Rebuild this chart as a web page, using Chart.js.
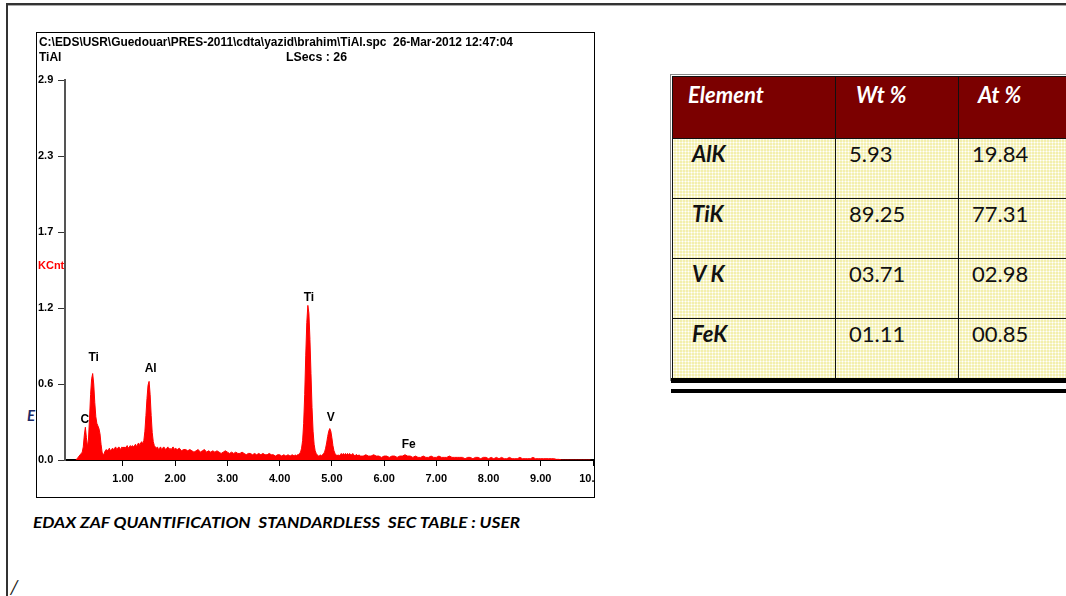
<!DOCTYPE html>
<html lang="en">
<head>
<meta charset="UTF-8">
<title>TiAl | EDS spectrum</title>
<script src="https://cdn.jsdelivr.net/npm/chart.js"></script>
<style>
  body { margin: 0; width: 1066px; height: 596px; overflow: hidden; background: #fff; position: relative; font-family: "Liberation Sans", Arial, sans-serif; }
  .frameTop { position: absolute; left: 6px; top: 3px; width: 1060px; height: 2px; background: #333; border-bottom: 1px solid #aaa; }
  .frameLeft { position: absolute; left: 6px; top: 3px; width: 2px; height: 593px; background: #333; }
  .stray { position: absolute; font-family: Lato, sans-serif; font-style: italic; color: #1b2a66; }
  #spec { position: absolute; left: 36px; top: 32px; width: 557px; height: 464px; border: 1px solid #000; background: #fff; overflow: hidden; z-index: 2; }
  #spec canvas { position: absolute; left: 0; top: 0; }
  .hdr { position: absolute; font-weight: bold; font-size: 12px; line-height: 14px; white-space: pre; color: #000; transform-origin: left center; }
  #kcnt { position: absolute; left: 1px; top: 226px; color: #ff0000; font-weight: bold; font-size: 11px; }
  #caption { position: absolute; left: 33px; top: 513px; font-family: Lato, sans-serif; font-weight: bold; font-style: italic; font-size: 15.5px; white-space: pre; color: #000; transform-origin: left center; }
  #tableWrap { position: absolute; left: 670px; top: 74px; width: 420px; border: 1px solid #888; padding: 1px; background: #fff; }
  table { border-collapse: collapse; table-layout: fixed; width: 408px; font-family: Lato, sans-serif; font-size: 22px; }
  th, td { border: 1px solid #111; text-align: left; vertical-align: top; box-sizing: border-box; }
  th { background: #7b0000; color: #fff; font-weight: bold; font-style: italic; height: 62px; padding: 4px 0 0 15px; }
  td { height: 60px; padding: 1px 0 0 13px; color: #111;
       background: #fff radial-gradient(circle, #e6de5a 0.9px, transparent 1.1px) 0 0 / 3px 3px; }
  th.wt { padding-left: 20px; }
  th.at { padding-left: 19px; }
  td.el { font-weight: bold; font-style: italic; padding-left: 19px; }
  .rule { position: absolute; left: 671px; width: 395px; background: #000; }
</style>
</head>
<body>
<div class="frameTop"></div>
<div class="frameLeft"></div>
<span class="stray" style="left:27px; top:406px; font-size:15px; font-weight:bold;">E</span>
<span class="stray" style="left:10px; top:574px; font-size:20px; color:#222;">/</span>

<div id="spec">
  <canvas id="spectrum" width="557" height="464"></canvas>
  <span class="hdr" id="path" style="left:2px; top:2px;">C:\EDS\USR\Guedouar\PRES-2011\cdta\yazid\brahim\TiAl.spc  26-Mar-2012 12:47:04</span>
  <span class="hdr" style="left:2px; top:17px;">TiAl</span>
  <span class="hdr" id="lsecs" style="left:249px; top:17px;">LSecs : 26</span>
  <span id="kcnt">KCnt</span>
</div>

<div id="caption">EDAX ZAF QUANTIFICATION  STANDARDLESS  SEC TABLE : USER</div>

<div id="tableWrap"><table id="quant"></table></div>
<div class="rule" style="top:378px; height:5px;"></div>
<div class="rule" style="top:389px; height:4px;"></div>

<script>
    // spectrum in KCnt, channels, each segment has its own energy step (keV)
    var segStart = [0.10, 2.00, 4.30, 5.60];
    var segStep = [0.02, 0.04, 0.02, 0.05];

    var countsA = [
        0.00, 0.01, 0.02, 0.03, 0.04, 0.05, 0.06, 0.10, 0.19, 0.25,
        0.17, 0.10, 0.16, 0.32, 0.50, 0.62, 0.66, 0.58, 0.44, 0.33,
        0.28, 0.26, 0.24, 0.20, 0.12, 0.06, 0.04, 0.05, 0.07, 0.08,
        0.07, 0.08, 0.09, 0.07, 0.08, 0.09, 0.08, 0.09, 0.10, 0.08,
        0.09, 0.10, 0.09, 0.08, 0.10, 0.09, 0.10, 0.09, 0.10, 0.11,
        0.09, 0.10, 0.11, 0.10, 0.11, 0.10, 0.11, 0.12, 0.10, 0.12,
        0.13, 0.11, 0.13, 0.14, 0.12, 0.15, 0.22, 0.34, 0.47, 0.57,
        0.60, 0.50, 0.34, 0.21, 0.14, 0.11, 0.10, 0.09, 0.10, 0.08,
        0.09, 0.10, 0.08, 0.09, 0.10, 0.09, 0.08, 0.09, 0.10, 0.08,
        0.09, 0.08, 0.09, 0.10, 0.08
    ];
    var countsB = [
        0.09, 0.08, 0.09, 0.07, 0.08, 0.08, 0.07, 0.08, 0.07, 0.06,
        0.07, 0.08, 0.06, 0.07, 0.08, 0.06, 0.07, 0.06, 0.07, 0.06,
        0.07, 0.06, 0.05, 0.06, 0.07, 0.06, 0.05, 0.06, 0.05, 0.06,
        0.05, 0.05, 0.06, 0.05, 0.04, 0.05, 0.05, 0.04, 0.05, 0.04,
        0.05, 0.04, 0.05, 0.04, 0.04, 0.05, 0.04, 0.04, 0.03, 0.04,
        0.04, 0.03, 0.04, 0.03, 0.04, 0.03, 0.04, 0.03
    ];
    var countsC = [
        0.04, 0.03, 0.04, 0.04, 0.05, 0.06, 0.09, 0.15, 0.28, 0.50,
        0.80, 1.05, 1.18, 1.12, 0.92, 0.66, 0.40, 0.22, 0.12, 0.07,
        0.05, 0.04, 0.03, 0.03, 0.04, 0.03, 0.04, 0.05, 0.06, 0.09,
        0.13, 0.18, 0.22, 0.24, 0.22, 0.17, 0.11, 0.07, 0.05, 0.04,
        0.03, 0.04, 0.03, 0.04, 0.05, 0.04, 0.05, 0.04, 0.05, 0.04,
        0.05, 0.04, 0.05, 0.04, 0.04, 0.05, 0.04, 0.03, 0.04, 0.04,
        0.03, 0.04, 0.03, 0.03, 0.03
    ];
    var countsD = [
        0.03, 0.04, 0.03, 0.03, 0.04, 0.03, 0.03, 0.02, 0.03, 0.03,
        0.02, 0.03, 0.03, 0.02, 0.03, 0.03, 0.04, 0.03, 0.03, 0.02,
        0.03, 0.02, 0.02, 0.03, 0.02, 0.02, 0.03, 0.02, 0.02, 0.03,
        0.02, 0.02, 0.02, 0.03, 0.02, 0.02, 0.02, 0.02, 0.02, 0.01,
        0.02, 0.02, 0.01, 0.02, 0.02, 0.01, 0.02, 0.02, 0.01, 0.02,
        0.01, 0.02, 0.01, 0.02, 0.01, 0.01, 0.02, 0.01, 0.01, 0.01,
        0.02, 0.01, 0.01, 0.01, 0.01, 0.02, 0.01, 0.01, 0.01, 0.01,
        0.01, 0.01, 0.01, 0.01, 0.005, 0.005, 0, 0, 0, 0,
        0, 0, 0, 0, 0, 0, 0, 0
    ];

    var xTicks = [1, 2, 3, 4, 5, 6, 7, 8, 9, 10];
    var yTicks = [0, 0.58, 1.16, 1.74, 2.32, 2.9];

    var peakNames = ['C', 'Ti', 'Al', 'Ti', 'V', 'Fe'];
    var peakLabelKeV = [0.27, 0.44, 1.53, 4.56, 4.98, 6.47];
    var peakLabelKCnt = [0.31, 0.78, 0.70, 1.24, 0.32, 0.115];

    var elements = ['AlK', 'TiK', 'V K', 'FeK'];
    var wtPct = ['5.93', '89.25', '03.71', '01.11'];
    var atPct = ['19.84', '77.31', '02.98', '00.85'];

    function segment(start, step, counts) {
        return counts.map(function(c, i) {
            return { x: +(start + i * step).toFixed(3), y: c };
        });
    }
    var spectrum = [].concat(
        segment(segStart[0], segStep[0], countsA),
        segment(segStart[1], segStep[1], countsB),
        segment(segStart[2], segStep[2], countsC),
        segment(segStart[3], segStep[3], countsD)
    );

    var tickFont = { family: 'Liberation Sans', size: 11, weight: 'bold' };

    var peakLabels = {
        id: 'peakLabels',
        afterDatasetsDraw: function(chart) {
            var ctx = chart.ctx;
            ctx.save();
            ctx.font = 'bold 12px "Liberation Sans", Arial, sans-serif';
            ctx.fillStyle = '#000';
            ctx.textAlign = 'center';
            ctx.textBaseline = 'middle';
            peakNames.forEach(function(name, i) {
                ctx.fillText(name, chart.scales.x.getPixelForValue(peakLabelKeV[i]), chart.scales.y.getPixelForValue(peakLabelKCnt[i]));
            });
            ctx.restore();
        }
    };

    new Chart(document.getElementById('spectrum'), {
        type: 'line',
        data: {
            datasets: [{
                data: spectrum,
                borderColor: '#ff0000',
                backgroundColor: '#ff0000',
                borderWidth: 1,
                pointRadius: 0,
                fill: 'origin',
                tension: 0
            }]
        },
        options: {
            responsive: false,
            animation: false,
            events: [],
            layout: { padding: { left: 1, top: 47, right: 1, bottom: 0 } },
            plugins: { legend: { display: false }, tooltip: { enabled: false } },
            scales: {
                x: {
                    type: 'linear',
                    min: -0.11,
                    max: 10,
                    afterBuildTicks: function(s) { s.ticks = xTicks.map(function(v) { return { value: v }; }); },
                    afterFit: function(s) { s.height = 37; s.paddingLeft = 0; s.paddingRight = 0; },
                    border: { color: '#000', width: 2 },
                    grid: { drawOnChartArea: false, tickLength: 6, color: '#000' },
                    ticks: {
                        autoSkip: false, maxRotation: 0, padding: 6, color: '#000', font: tickFont,
                        callback: function(v) { return v.toFixed(2); }
                    }
                },
                y: {
                    min: 0,
                    max: 2.9,
                    afterBuildTicks: function(s) { s.ticks = yTicks.map(function(v) { return { value: v }; }); },
                    afterFit: function(s) { s.width = 27; },
                    border: { color: '#555', width: 2 },
                    grid: { drawOnChartArea: false, tickLength: 7, color: '#333' },
                    ticks: {
                        crossAlign: 'far', color: '#000', font: tickFont,
                        callback: function(v) { return v.toFixed(1); }
                    }
                }
            }
        },
        plugins: [peakLabels]
    });

    // quantification table
    var html = '<colgroup><col style="width:163px"><col style="width:123px"><col style="width:122px"></colgroup>' +
        '<tr><th>Element</th><th class="wt">Wt %</th><th class="at">At %</th></tr>';
    elements.forEach(function(el, i) {
        html += '<tr><td class="el">' + el + '</td><td>' + wtPct[i] + '</td><td>' + atPct[i] + '</td></tr>';
    });
    document.getElementById('quant').innerHTML = html;

    function fitWidth(id, w) {
        var el = document.getElementById(id);
        el.style.transform = 'scaleX(' + (w / el.getBoundingClientRect().width) + ')';
    }
    fitWidth('path', 474);
    fitWidth('lsecs', 61);
    fitWidth('caption', 487);
</script>
</body>
</html>
